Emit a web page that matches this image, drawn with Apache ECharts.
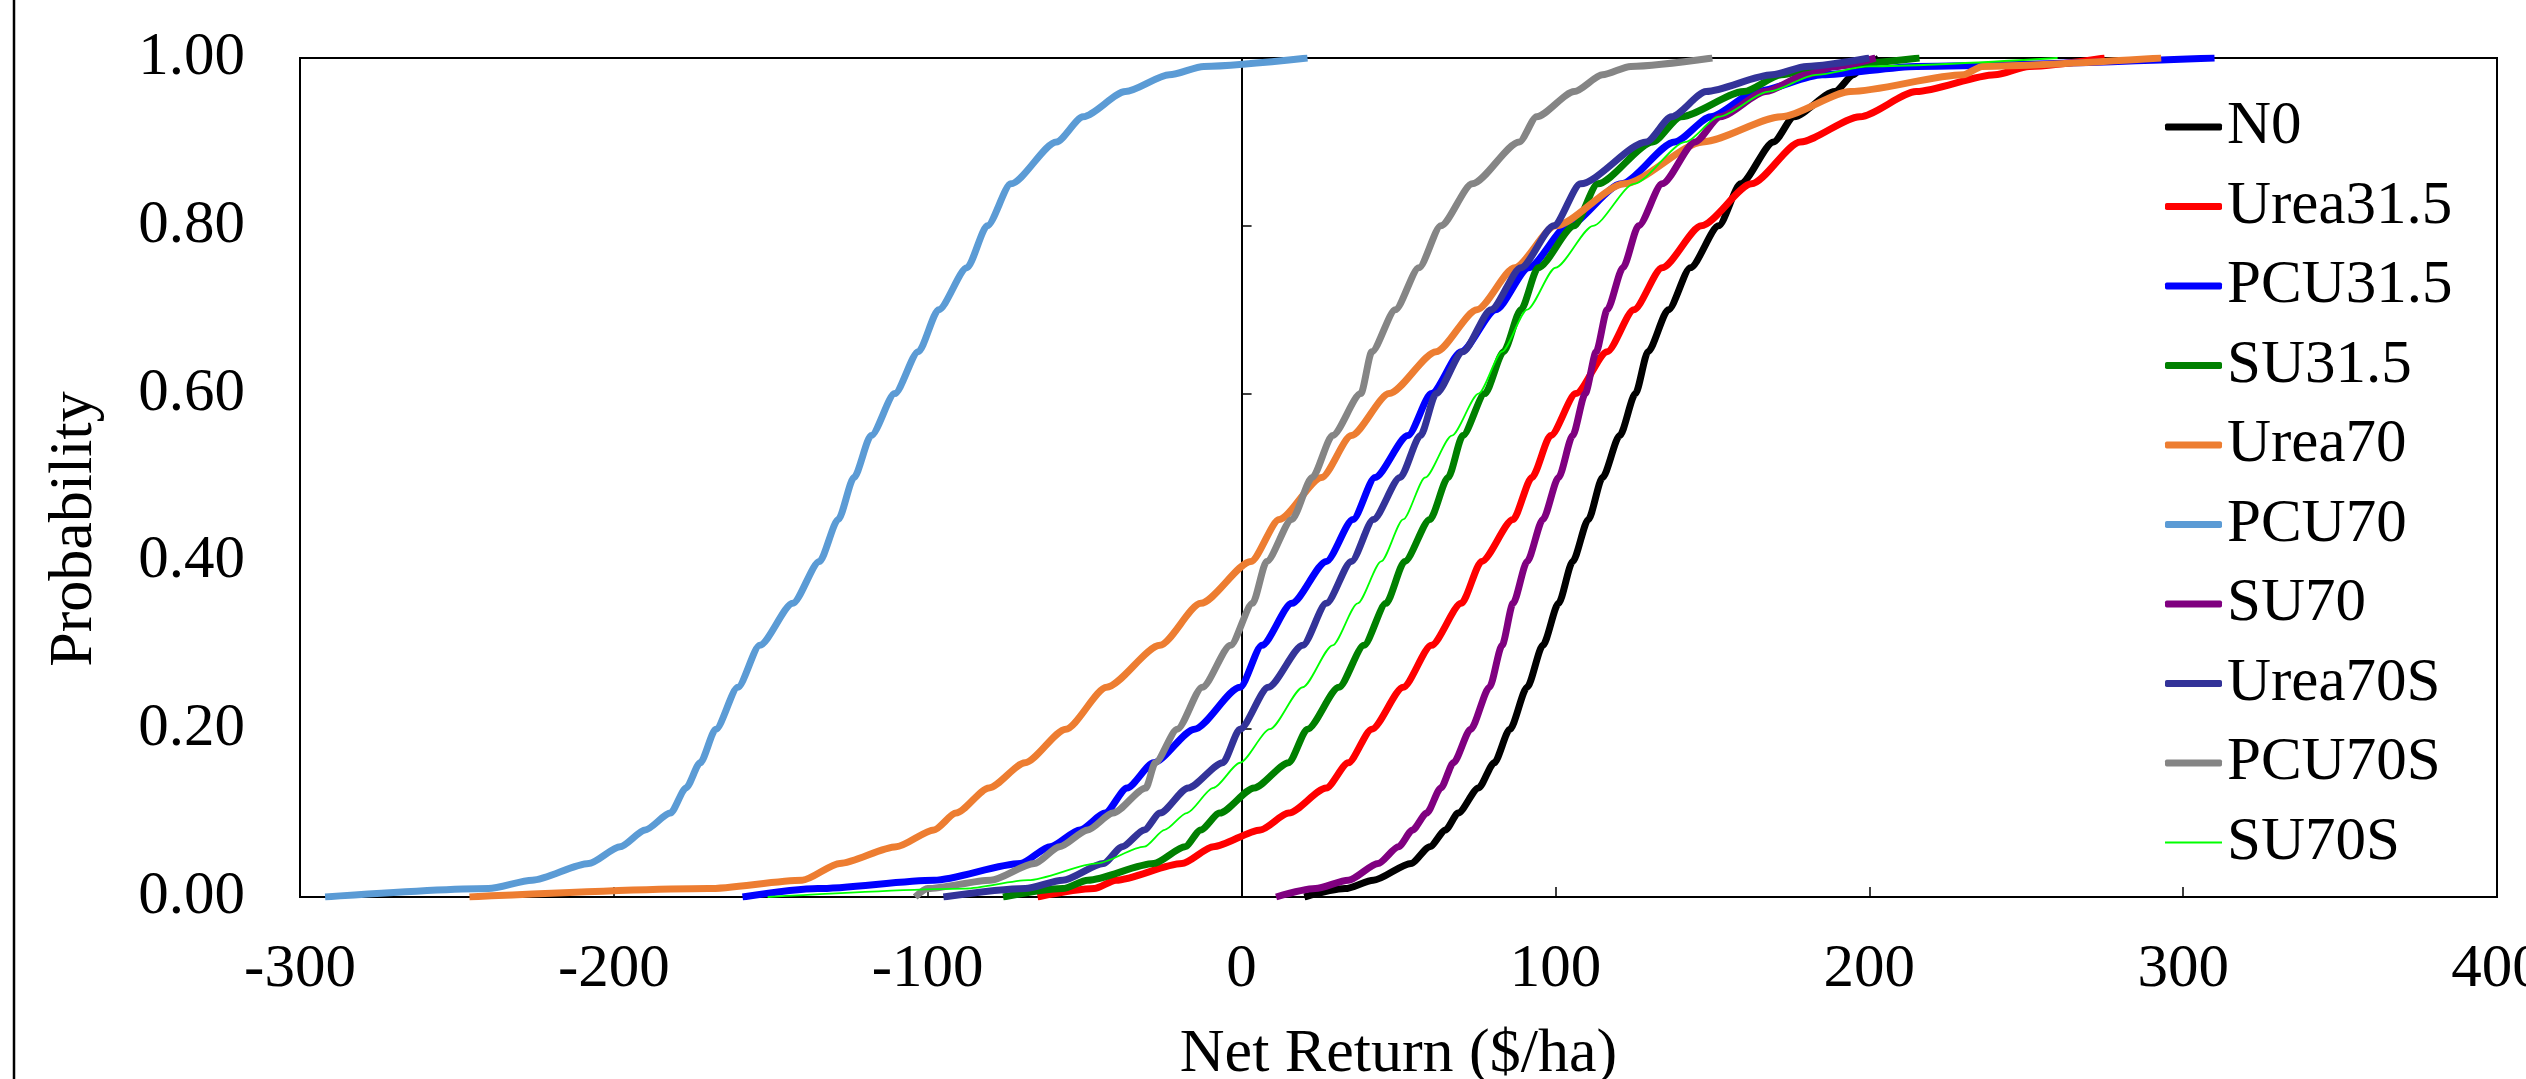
<!DOCTYPE html>
<html>
<head>
<meta charset="utf-8">
<title>Net Return CDF</title>
<script src="https://cdn.jsdelivr.net/npm/echarts@6/dist/echarts.min.js"></script>
<style>
  html, body { margin: 0; padding: 0; background: #fff; }
  #chart { width: 2526px; height: 1079px; }
</style>
</head>
<body>
<div id="chart"></div>
<script>
// cumulative probability levels (y) shared by all curves
const probLevels = [0, 0.01, 0.02, 0.04, 0.06, 0.08, 0.10, 0.13, 0.16, 0.20, 0.25, 0.30, 0.35, 0.40, 0.45,
  0.50, 0.55, 0.60, 0.65, 0.70, 0.75, 0.80, 0.85, 0.90, 0.93, 0.96, 0.98, 0.99, 1.00]

// net return ($/ha) at each probability level
const n0 = [20, 33, 42, 54, 60, 65, 69, 75.5, 80.5, 85.5, 91, 96, 101, 105.5, 110.5,
  115, 120.5, 125.5, 129.5, 136, 143, 152, 159, 169.5, 176, 189, 195, 198, 203]
const urea315 = [-65, -47, -40, -19, -9, 6, 15, 27, 34, 41.5, 51.5, 60.5, 70, 76.5, 86.5,
  92.5, 98.5, 106.5, 116.5, 125, 134, 146.5, 162.5, 178, 197, 215, 240, 251, 275]
const pcu315 = [-159, -135, -98, -70.5, -61, -51.5, -43.5, -36.5, -28, -15, -0.5, 6.5, 16, 27, 35.5,
  42.5, 53, 60.5, 70, 81, 91.5, 104, 121, 138, 149.5, 164, 185, 215, 310]
const su315 = [-76, -57, -49, -28, -18, -13, -7, 4, 15, 21, 31, 39, 46, 52, 60,
  65.8, 70.5, 77.5, 83.5, 89, 94.5, 106, 113.5, 131, 140, 160, 172, 184, 216]
const urea70 = [-246, -170, -140, -128, -110, -98, -91, -80.5, -69, -56, -43, -26, -13, 3, 12,
  25.5, 35, 47, 62, 75, 87, 100, 122, 147, 172, 194, 230, 236, 293]
const pcu70 = [-292, -240, -226, -208, -198, -190, -182, -177, -172.5, -167.5, -160.5, -153.5, -143, -134.5, -128.5,
  -123.5, -118, -110.5, -103, -96.5, -87.5, -81, -73.5, -59, -50.5, -37, -23, -12, 21]
const su70 = [11, 23.5, 34, 43.5, 50, 54.5, 59, 63.5, 67.5, 73, 79, 83, 86.5, 91, 96,
  101, 105.5, 109.5, 113, 116.5, 121.5, 126.5, 134, 144.5, 152.5, 167, 180, 189, 202]
const urea70s = [-95, -69, -57, -44, -38, -31, -26, -17, -6, -0.5, 8.5, 19.5, 27, 35, 42,
  50.5, 57, 62, 70.5, 79.5, 89, 99.5, 108, 129, 137, 148, 169, 180, 200]
const pcu70s = [-104, -100, -80, -66, -58, -49, -41, -30.5, -27.5, -20.5, -12.5, -3.5, 3.5, 8, 16,
  22.5, 29, 38, 41.5, 49, 56.5, 63.5, 73.5, 88.5, 94, 106, 115, 124, 150]
const su70s = [-151, -88, -68, -46, -31, -24.5, -17.5, -9, -0.5, 9, 19.5, 29, 37, 44.5, 51.5,
  58.5, 67, 75.5, 83, 91, 100, 112, 125, 141.5, 152, 168, 183, 200, 260]

const seriesNames = ['N0', 'Urea31.5', 'PCU31.5', 'SU31.5', 'Urea70', 'PCU70', 'SU70', 'Urea70S', 'PCU70S', 'SU70S']
const seriesValues = [n0, urea315, pcu315, su315, urea70, pcu70, su70, urea70s, pcu70s, su70s]
const seriesColors = ['#000000', '#ff0000', '#0000ff', '#008000', '#ed7d31', '#5b9bd5', '#800080', '#333399', '#858585', '#00ff00']
const xTicks = { min: -300, max: 400, step: 100 }
const yTicks = { min: 0, max: 1, step: 0.2 }

const font = 'Liberation Serif'
const chart = echarts.init(document.getElementById('chart'))

const series = seriesNames.map((name, i) => {
  return {
    name: name,
    type: 'line',
    showSymbol: false,
    symbol: 'none',
    smooth: 0.25,
    smoothMonotone: 'x',
    color: seriesColors[i],
    lineStyle: { width: name === 'SU70S' ? 1.8 : 7, color: seriesColors[i] },
    data: seriesValues[i].map((v, k) => [v, probLevels[k]])
  }
})

// legend keys drawn as short bars; the thin series gets a thin bar
const legendData = seriesNames.map(name => {
  return name === 'SU70S'
    ? { name: name, icon: 'path://M0,0H57V2H0Z' }
    : { name: name, icon: 'roundRect' }
})

const option = {
  animation: false,
  backgroundColor: '#fff',
  textStyle: { fontFamily: font, color: '#000' },
  grid: {
    left: 300, right: 29, top: 58, bottom: 182,
    outerBoundsMode: 'none',
    show: true, borderColor: '#000', borderWidth: 2
  },
  graphic: [{
    type: 'line',
    shape: { x1: 14, y1: 0, x2: 14, y2: 1079 },
    style: { stroke: '#000', lineWidth: 2.5 }
  }],
  legend: {
    orient: 'vertical',
    left: 2160,
    top: 91,
    itemWidth: 57,
    itemHeight: 7,
    itemGap: 17.5,
    textStyle: { fontFamily: font, fontSize: 61, lineHeight: 62, color: '#000' },
    data: legendData
  },
  xAxis: {
    type: 'value',
    min: xTicks.min, max: xTicks.max, interval: xTicks.step,
    name: 'Net Return ($/ha)',
    nameLocation: 'middle',
    nameGap: 127,
    nameTextStyle: { fontFamily: font, fontSize: 62, lineHeight: 62, color: '#000' },
    axisLine: { show: true, lineStyle: { color: '#000', width: 2 } },
    axisTick: { inside: true, length: 10, lineStyle: { color: '#000', width: 1.5 } },
    axisLabel: { fontFamily: font, fontSize: 61, lineHeight: 61, color: '#000', margin: 42 },
    splitLine: { show: false }
  },
  yAxis: [{
    type: 'value',
    position: 'left',
    min: yTicks.min, max: yTicks.max, interval: yTicks.step,
    name: 'Probability',
    nameLocation: 'middle',
    nameGap: 194,
    nameTextStyle: { fontFamily: font, fontSize: 62, lineHeight: 62, color: '#000', padding: [0, 103, 0, 0] },
    axisLine: { show: false, onZero: false },
    axisTick: { show: false },
    axisLabel: { fontFamily: font, fontSize: 61, color: '#000', margin: 55, formatter: v => v.toFixed(2) },
    splitLine: { show: false }
  }, {
    type: 'value',
    position: 'left',
    min: yTicks.min, max: yTicks.max, interval: yTicks.step,
    axisLine: { show: true, onZero: true, onZeroAxisIndex: 0, lineStyle: { color: '#000', width: 2 } },
    axisTick: { inside: true, length: 10, lineStyle: { color: '#000', width: 1.5 } },
    axisLabel: { show: false },
    splitLine: { show: false }
  }],
  series: series
}

chart.setOption(option)
</script>
</body>
</html>
